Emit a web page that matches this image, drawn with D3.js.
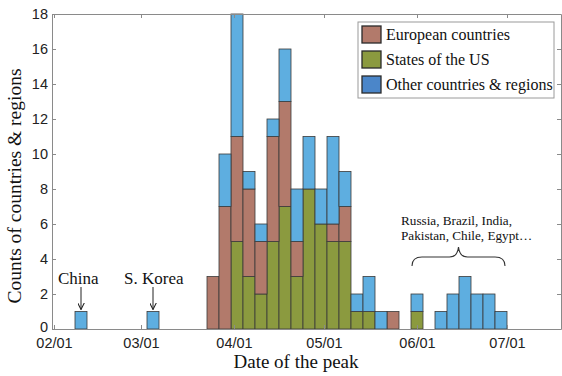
<!DOCTYPE html>
<html>
<head>
<meta charset="utf-8">
<script src="https://cdn.jsdelivr.net/npm/d3@7/dist/d3.min.js"></script>
<style>
  html, body { margin: 0; padding: 0; background: #fff; }
  svg { display: block; }
</style>
</head>
<body>
<svg id="chart" width="562" height="376"></svg>
<script>
// Start date of each 4-day bin (date of the epidemic peak)
const binStart = [
  "2020-02-08", "2020-03-03", "2020-03-23", "2020-03-27", "2020-03-31",
  "2020-04-04", "2020-04-08", "2020-04-12", "2020-04-16", "2020-04-20",
  "2020-04-24", "2020-04-28", "2020-05-02", "2020-05-06", "2020-05-10",
  "2020-05-14", "2020-05-18", "2020-05-22", "2020-05-30", "2020-06-07",
  "2020-06-11", "2020-06-15", "2020-06-19", "2020-06-23", "2020-06-27"
];
// Counts per bin for each group
const usStates  = [0, 0, 0, 0, 5, 3, 2, 5, 7, 3, 8, 6, 5, 5, 1, 1, 0, 0, 1, 0, 0, 0, 0, 0, 0];
const european  = [0, 0, 3, 7, 6, 5, 3, 6, 6, 2, 0, 0, 1, 2, 0, 0, 0, 1, 0, 0, 0, 0, 0, 0, 0];
const otherRegs = [1, 1, 0, 3, 7, 1, 1, 1, 3, 3, 3, 2, 5, 2, 1, 2, 1, 0, 1, 1, 2, 3, 2, 2, 1];

const seriesKeys  = ["us", "europe", "other"];
const legendNames = ["European countries", "States of the US", "Other countries & regions"];
const yTicks = [0, 2, 4, 6, 8, 10, 12, 14, 16, 18];
const xTickDates = ["2020-02-01", "2020-03-01", "2020-04-01", "2020-05-01", "2020-06-01", "2020-07-01"];
const binDays = 4;

const parse = d3.timeParse("%Y-%m-%d");
const rows = binStart.map((d, i) => ({
  start: parse(d),
  us: usStates[i],
  europe: european[i],
  other: otherRegs[i]
}));

const fill = { europe: "#b27a6b", us: "#8b9a3f", other: "#5eaee0" };
const legendFill = ["#b27a6b", "#8b9a3f", "#4b86c9"];

const svg = d3.select("#chart");
const plotLeft = 52, plotRight = 561, plotTop = 14, plotBottom = 329;

const x = d3.scaleTime()
  .domain([new Date(2020, 0, 31, 8), new Date(2020, 6, 19)])
  .range([plotLeft, plotRight]);
const y = d3.scaleLinear().domain([0, 18]).range([plotBottom, plotTop]);

const stacked = d3.stack().keys(seriesKeys)(rows);

// Stacked bars
const gBars = svg.append("g");
stacked.forEach(layer => {
  gBars.selectAll(null)
    .data(layer.filter(d => d[1] > d[0]))
    .join("rect")
    .attr("x", d => x(d.data.start))
    .attr("width", d => x(d3.timeDay.offset(d.data.start, binDays)) - x(d.data.start))
    .attr("y", d => y(d[1]))
    .attr("height", d => y(d[0]) - y(d[1]))
    .attr("fill", fill[layer.key])
    .attr("stroke", "#3a3a3a")
    .attr("stroke-width", 0.8);
});

// Axes: box with inward ticks on all four sides
const axisColor = "#8a8a8a";
const fmt = d3.timeFormat("%m/%d");
const xt = xTickDates.map(parse);

const gx = svg.append("g").attr("transform", `translate(0,${plotBottom})`)
  .call(d3.axisBottom(x).tickValues(xt).tickFormat(fmt).tickSizeInner(-4).tickSizeOuter(0).tickPadding(9));
const gxTop = svg.append("g").attr("transform", `translate(0,${plotTop})`)
  .call(d3.axisTop(x).tickValues(xt).tickFormat("").tickSizeInner(-4).tickSizeOuter(0));
const gy = svg.append("g").attr("transform", `translate(${plotLeft},0)`)
  .call(d3.axisLeft(y).tickValues(yTicks).tickSizeInner(-4).tickSizeOuter(0).tickPadding(4));
const gyRight = svg.append("g").attr("transform", `translate(${plotRight},0)`)
  .call(d3.axisRight(y).tickValues(yTicks).tickFormat("").tickSizeInner(-4).tickSizeOuter(0));

[gx, gxTop, gy, gyRight].forEach(g => {
  g.select(".domain").attr("stroke", axisColor).attr("stroke-width", 1);
  g.selectAll(".tick line").attr("stroke", axisColor);
  g.selectAll(".tick text")
    .attr("fill", "#222")
    .style("font-family", "'Liberation Sans', Arial, sans-serif")
    .style("font-size", "14.5px");
});
// The zero label sits just above the date labels
gy.selectAll(".tick text").filter(d => d === 0).attr("dy", "0.2em");

// Axis titles
const serif = "'Liberation Serif', 'Times New Roman', serif";
svg.append("text")
  .attr("x", 296).attr("y", 368)
  .attr("text-anchor", "middle")
  .style("font-family", serif).style("font-size", "19px").attr("fill", "#111")
  .text("Date of the peak");
svg.append("text")
  .attr("transform", "translate(21,186) rotate(-90)")
  .attr("text-anchor", "middle")
  .style("font-family", serif).style("font-size", "19.5px").attr("fill", "#111")
  .text("Counts of countries & regions");

// Legend
const lg = svg.append("g");
lg.append("rect")
  .attr("x", 358).attr("y", 22).attr("width", 196).attr("height", 76)
  .attr("fill", "#fff").attr("stroke", "#9a9a9a").attr("stroke-width", 1);
legendNames.forEach((name, i) => {
  lg.append("rect")
    .attr("x", 362).attr("y", 26 + i * 25).attr("width", 19).attr("height", 17)
    .attr("fill", legendFill[i]).attr("stroke", "#2a2a2a").attr("stroke-width", 1.3);
  lg.append("text")
    .attr("x", 386).attr("y", 40 + i * 25)
    .style("font-family", serif).style("font-size", "16px").attr("fill", "#111")
    .text(name);
});

// Annotations with arrows
const defs = svg.append("defs");
defs.append("marker")
  .attr("id", "arrowhead")
  .attr("viewBox", "0 0 10 10")
  .attr("refX", 10).attr("refY", 5)
  .attr("markerWidth", 7).attr("markerHeight", 7)
  .attr("markerUnits", "userSpaceOnUse")
  .attr("orient", "auto")
  .append("path")
  .attr("d", "M0,0 L10,5 L0,10")
  .attr("fill", "none").attr("stroke", "#222").attr("stroke-width", 1.5);

const callouts = [
  { label: "China", bin: 0, tx: 58 },
  { label: "S. Korea", bin: 1, tx: 124 }
];
callouts.forEach(c => {
  const r = rows[c.bin];
  const cx = (x(r.start) + x(d3.timeDay.offset(r.start, binDays))) / 2;
  svg.append("text")
    .attr("x", c.tx).attr("y", 284)
    .style("font-family", serif).style("font-size", "17px").attr("fill", "#111")
    .text(c.label);
  svg.append("line")
    .attr("x1", cx).attr("x2", cx)
    .attr("y1", 287).attr("y2", y(r.us + r.europe + r.other) - 2)
    .attr("stroke", "#222").attr("stroke-width", 1)
    .attr("marker-end", "url(#arrowhead)");
});

// Brace over the late-peaking group
const bx0 = x(parse("2020-05-30")) + 1, bx1 = x(parse("2020-06-30")) + 1;
const bm = (bx0 + bx1) / 2;
const yEnd = 266, yMid = 257, yTip = 247;
svg.append("path")
  .attr("d", `M${bx0},${yEnd} Q${bx0},${yMid} ${bx0 + 10},${yMid} L${bm - 9},${yMid} Q${bm - 1},${yMid} ${bm},${yTip} Q${bm + 1},${yMid} ${bm + 9},${yMid} L${bx1 - 10},${yMid} Q${bx1},${yMid} ${bx1},${yEnd}`)
  .attr("fill", "none").attr("stroke", "#333").attr("stroke-width", 1.1);

const braceText = svg.append("text")
  .style("font-family", serif).style("font-size", "13.2px").attr("fill", "#111");
braceText.append("tspan").attr("x", 401).attr("y", 225).text("Russia, Brazil, India,");
braceText.append("tspan").attr("x", 401).attr("y", 240).text("Pakistan, Chile, Egypt…");
</script>
</body>
</html>
